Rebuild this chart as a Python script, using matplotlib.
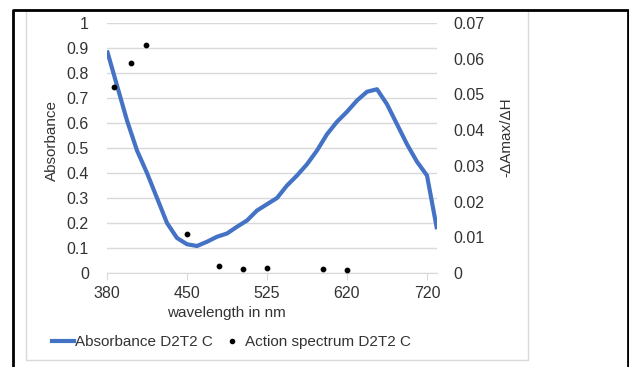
import numpy as np
import matplotlib.pyplot as plt
from matplotlib.lines import Line2D
from matplotlib.patches import Rectangle

plt.rcParams['font.family'] = ['Liberation Sans', 'DejaVu Sans']

# wavelength categories (nm) of the absorbance series
wavelengths = [380, 389, 398, 406, 415, 424, 433, 441, 450,
               459, 469, 478, 488, 497, 506, 516, 525,
               537, 549, 561, 573, 584, 596, 608, 620,
               632, 645, 657, 670, 682, 695, 707, 720, 732]
absorbance = [0.89, 0.75, 0.61, 0.49, 0.40, 0.30, 0.20, 0.14, 0.115,
              0.108, 0.125, 0.145, 0.158, 0.185, 0.21, 0.25, 0.275,
              0.30, 0.35, 0.39, 0.435, 0.49, 0.555, 0.605, 0.645,
              0.69, 0.725, 0.735, 0.675, 0.595, 0.515, 0.445, 0.39, 0.175]

# action spectrum (secondary axis)
action_wl = [386, 401, 414, 450, 480, 502, 525, 591, 620]
action_val = [0.052, 0.0588, 0.0638, 0.011, 0.002, 0.0012, 0.0013, 0.001, 0.0009]

tick_wl = [380, 450, 525, 620, 720]
left_ticks = [0, 0.1, 0.2, 0.3, 0.4, 0.5, 0.6, 0.7, 0.8, 0.9, 1]
right_ticks = [0, 0.01, 0.02, 0.03, 0.04, 0.05, 0.06, 0.07]

W, H = 629, 367
fig = plt.figure(figsize=(W / 100, H / 100), dpi=100)
ax = fig.add_axes([107 / W, 1 - 273 / H, 330 / W, 250 / H])
ax2 = ax.twinx()

pos = np.arange(len(wavelengths))
grid_c = '#d9d9d9'
txt_c = '#333333'
fs_tick = 11.5
fs = 11

ax.plot(pos, absorbance, color='#4472C4', lw=3, solid_capstyle='butt', zorder=3)
ax2.scatter(np.interp(action_wl, wavelengths, pos), action_val, s=10, color='black', zorder=4)

ax.set_xlim(0, len(wavelengths) - 1)
ax.set_ylim(0, 1)
ax2.set_ylim(0, 0.07)
ax.set_xticks([wavelengths.index(w) for w in tick_wl])
ax.set_xticklabels([str(w) for w in tick_wl])
ax.set_yticks(left_ticks)
ax.set_yticklabels(['%g' % t for t in left_ticks])
ax2.set_yticks(right_ticks)
ax2.set_yticklabels(['%g' % t for t in right_ticks])

ax.grid(axis='y', color=grid_c, lw=1)
ax.set_axisbelow(True)
for a in (ax, ax2):
    for s in a.spines.values():
        s.set_visible(False)
ax.spines['bottom'].set_visible(True)
ax.spines['bottom'].set_color(grid_c)
ax.tick_params(axis='x', length=5, color=grid_c, labelsize=fs_tick, labelcolor=txt_c, pad=4)
ax.tick_params(axis='y', length=0, labelsize=fs_tick, labelcolor=txt_c, pad=13)
ax2.tick_params(axis='y', length=0, labelsize=fs_tick, labelcolor=txt_c, pad=12)

fig.text(52 / W, 1 - 140 / H, 'Absorbance', rotation=90, ha='center', va='center',
         fontsize=fs, color=txt_c)
fig.text(506 / W, 1 - 137 / H, '-ΔAmax/ΔH', rotation=90, ha='center', va='center',
         fontsize=fs, color=txt_c)
fig.text(226 / W, 1 - 313 / H, 'wavelength in nm', ha='center', va='center',
         fontsize=fs, color=txt_c)

handles = [Line2D([], [], color='#4472C4', lw=3),
           Line2D([], [], ls='', marker='o', ms=3, color='black')]
fig.legend(handles, ['Absorbance D2T2 C', 'Action spectrum D2T2 C'],
           loc='center', bbox_to_anchor=(231.5 / W, 1 - 342 / H), ncol=2,
           frameon=False, fontsize=fs, handlelength=1.4, handletextpad=0.1,
           columnspacing=0.55, labelcolor=txt_c)

# chart area border and outer frame
fig.patches.append(Rectangle((26 / W, 1 - 360 / H), 502 / W, 350 / H,
                             transform=fig.transFigure, fill=False,
                             ec='#d9d9d9', lw=1))
fig.add_artist(Line2D([13 / W, 13 / W, 628 / W, 628 / W], [0, 1 - 10 / H, 1 - 10 / H, 0],
                      transform=fig.transFigure, color='black', lw=2))

fig.savefig('out.png', dpi=100)
